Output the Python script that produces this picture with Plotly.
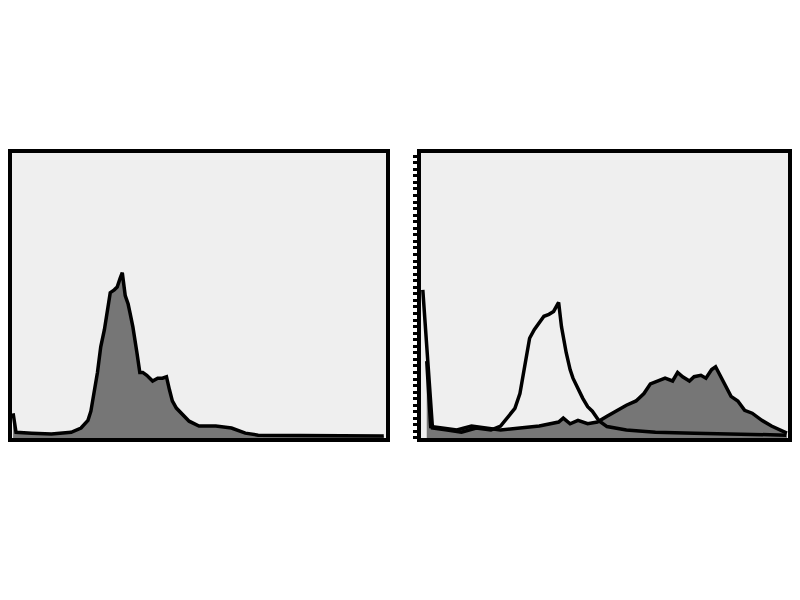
import plotly.graph_objects as go
from plotly.subplots import make_subplots

# Left panel: filled histogram (channel, count)
left_channels = [3, 11, 54, 108, 162, 189, 208, 216, 234, 243, 253, 261, 269, 280, 288, 296, 302,
                 310, 318, 323, 331, 342, 350, 358, 369, 385, 399, 412, 423, 431, 439, 450, 458,
                 485, 512, 558, 601, 639, 674, 781, 889, 1018]
left_counts = [8.7, 2.0, 1.7, 1.4, 2.0, 3.5, 6.2, 9.4, 23, 32, 38, 44, 51, 52, 53, 56, 58,
               50, 47, 44, 39, 30, 23, 23, 22, 20, 21, 21, 21.5, 17, 13, 10.5, 9.4,
               5.9, 4.2, 4.2, 3.5, 1.7, 1.0, 1.0, 0.7, 0.7]

# Right panel: open (control) histogram
right_open_channels = [5, 32, 73, 113, 154, 195, 222, 235, 249, 262, 276, 289, 303, 316, 330, 343,
                       357, 370, 384, 392, 405, 416, 424, 438, 451, 465, 478, 497, 519, 573, 654,
                       762, 897, 1019]
right_open_counts = [52, 3.5, 2.8, 2.0, 3.5, 2.8, 4.2, 6.2, 8.7, 10.4, 15.6, 25, 35, 38, 40.6, 42.7,
                     43.4, 44.4, 47.6, 39, 30, 24, 21, 17, 14, 11, 9.4, 6.0, 4.0, 2.8, 2.0,
                     1.7, 1.4, 1.0]

# Right panel: filled (stained) histogram
right_fill_channels = [16, 27, 59, 100, 141, 181, 222, 276, 330, 384, 397, 416, 438, 465, 492, 519,
                       546, 573, 600, 622, 640, 659, 681, 702, 716, 730, 749, 762, 781, 795, 811,
                       822, 832, 843, 865, 884, 903, 924, 951, 978, 1005, 1021]
right_fill_counts = [27, 4.0, 3.5, 2.8, 4.2, 3.5, 2.8, 3.5, 4.2, 5.6, 7.0, 5.0, 6.2, 5.0, 5.6, 7.6,
                     9.7, 11.5, 13, 15.6, 19, 20, 21, 20, 23, 21.5, 20, 21.5, 22, 21, 24,
                     25, 22.6, 20, 14.6, 13, 9.7, 8.7, 6.2, 4.2, 2.8, 1.7]

fig = make_subplots(rows=1, cols=2)

fig.add_trace(go.Scatter(x=left_channels, y=left_counts, mode="lines", fill="tozeroy",
                         fillcolor="#767676", line=dict(color="black", width=3.5)), row=1, col=1)
fig.add_trace(go.Scatter(x=right_fill_channels, y=right_fill_counts, mode="lines", fill="tozeroy",
                         fillcolor="#767676", line=dict(color="black", width=3.5)), row=1, col=2)
fig.add_trace(go.Scatter(x=right_open_channels, y=right_open_counts, mode="lines",
                         line=dict(color="black", width=3.5)), row=1, col=2)

axis_common = dict(showline=True, mirror=True, linecolor="black",
                   showgrid=False, zeroline=False, showticklabels=False)

fig.update_xaxes(range=[0, 1024], ticks="", linewidth=4, **axis_common)
fig.update_yaxes(range=[0, 100], ticks="outside", ticklen=4, tickwidth=2.5, tickcolor="black",
                 dtick=2.3, linewidth=4, **axis_common)

fig.update_layout(
    width=784, height=584,
    margin=dict(l=0, r=0, t=0, b=0),
    paper_bgcolor="white",
    plot_bgcolor="#efefef",
    showlegend=False,
    xaxis=dict(domain=[0.0051, 0.4821]),
    xaxis2=dict(domain=[0.5268, 0.9949]),
    yaxis=dict(domain=[0.2637, 0.7517]),
    yaxis2=dict(domain=[0.2637, 0.7517]),
)

fig.write_html("out.html")
